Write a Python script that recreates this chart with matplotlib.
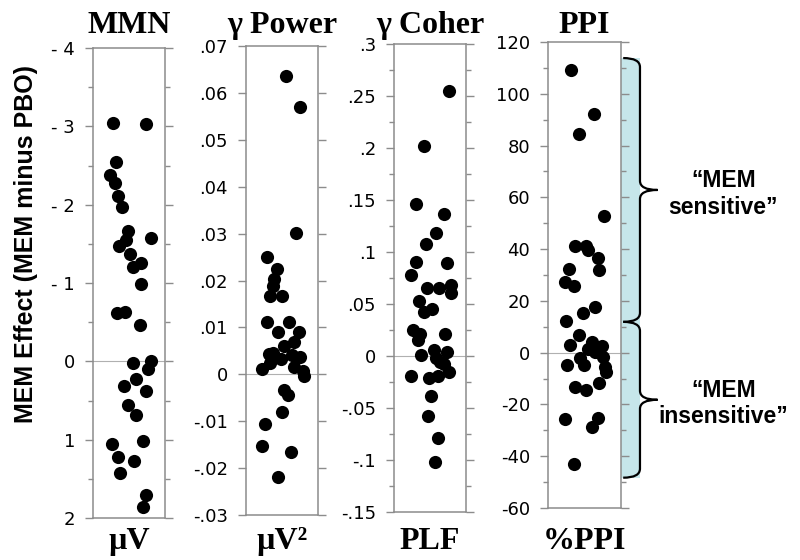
import matplotlib
matplotlib.use("Agg")
import matplotlib.pyplot as plt
import matplotlib.transforms as mtransforms
from matplotlib.path import Path
from matplotlib.patches import PathPatch, Rectangle
from matplotlib.ticker import MultipleLocator, FuncFormatter

plt.rcParams["axes.unicode_minus"] = False

# x = position inside the column (0..1), y = MEM minus PBO effect
mmn_x = [.28, .74, .32, .23, .30, .35, .40, .49, .80, .46, .36, .52, .56, .66, .66,
         .33, .44, .65, .56, .80, .77, .43, .60, .74, .49, .60, .26, .69, .35, .57,
         .38, .73, .69]
mmn_y = [-3.04, -3.03, -2.54, -2.38, -2.28, -2.11, -1.97, -1.67, -1.57, -1.55, -1.47,
         -1.37, -1.21, -1.26, -0.99, -0.62, -0.63, -0.46, 0.02, 0.00, 0.10, 0.31, 0.22,
         0.38, 0.56, 0.68, 1.05, 1.02, 1.22, 1.27, 1.43, 1.71, 1.86]

gpow_x = [.55, .75, .70, .29, .43, .39, .38, .33, .50, .29, .60, .45, .73, .67, .53,
          .32, .37, .33, .49, .64, .75, .22, .66, .79, .80, .53, .58, .50, .26, .22,
          .63, .44]
gpow_y = [.0637, .0570, .0302, .0250, .0225, .0204, .0189, .0166, .0166, .0111, .0111,
          .0091, .0091, .0069, .0060, .0044, .0045, .0024, .0033, .0041, .0037, .0011,
          .0015, .0006, -.0004, -.0033, -.0044, -.0080, -.0106, -.0153, -.0166, -.0220]

gcoh_x = [.77, .42, .30, .69, .58, .44, .30, .73, .24, .46, .62, .79, .79, .35, .41,
          .53, .27, .36, .33, .71, .38, .55, .73, .59, .64, .69, .77, .24, .49, .61,
          .52, .47, .61, .57]
gcoh_y = [.255, .202, .146, .137, .118, .108, .090, .089, .078, .065, .065, .068, .061,
          .053, .042, .045, .025, .021, .015, .021, .001, .006, .004, -.002, -.006,
          -.008, -.015, -.019, -.021, -.019, -.038, -.058, -.079, -.102]

ppi_x = [.32, .63, .43, .77, .37, .52, .55, .68, .29, .70, .23, .35, .65, .48, .25,
         .43, .30, .60, .55, .74, .64, .44, .49, .26, .76, .78, .80, .70, .37, .52,
         .23, .68, .60, .35]
ppi_y = [109.0, 92.3, 84.5, 52.8, 41.1, 41.1, 39.5, 36.4, 32.3, 31.9, 27.4, 25.7, 17.5,
         15.4, 12.2, 6.7, 3.0, 4.0, 1.6, 2.6, 0.2, -2.1, -4.8, -4.6, -1.8, -5.7, -7.6,
         -11.7, -13.1, -14.6, -25.5, -25.2, -28.7, -43.1]

titles = ["MMN", "γ Power", "γ Coher", "PPI"]
units = ["µV", "µV²", "PLF", "%PPI"]

# bracket ranges on the PPI scale
sens_range = (113.8, 11.9)
insens_range = (11.9, -48.3)

W, H = 800, 560
fig = plt.figure(figsize=(8, 5.6), dpi=100)
fig.patch.set_facecolor("white")


def px_axes(x0, x1, y0, y1):
    return fig.add_axes([x0 / W, 1 - y1 / H, (x1 - x0) / W, (y1 - y0) / H])


def short_fmt(spaced=False):
    def f(v, pos):
        if abs(v) < 1e-9:
            return "0"
        s = f"{v:g}"
        s = s.replace("0.", ".")
        if spaced and s.startswith("-"):
            s = "- " + s[1:]
        return s
    return FuncFormatter(f)


panels = [
    dict(x=mmn_x, y=mmn_y, box=(93, 165, 48, 518), ylim=(2, -4), major=1, minor=0.5, spaced=True),
    dict(x=gpow_x, y=gpow_y, box=(246, 318, 46, 515), ylim=(-.03, .07), major=.01, minor=None, spaced=False),
    dict(x=gcoh_x, y=gcoh_y, box=(394, 466, 44, 512), ylim=(-.15, .3), major=.05, minor=.025, spaced=False),
    dict(x=ppi_x, y=ppi_y, box=(548, 621, 42, 508), ylim=(-60, 120), major=20, minor=10, spaced=False),
]

spine_col = "#8c8c8c"
axes = []
for p, title, unit in zip(panels, titles, units):
    ax = px_axes(*p["box"])
    ax.scatter(p["x"], p["y"], s=90, color="black", zorder=3, linewidths=0)
    ax.axhline(0, color="#b0b0b0", lw=0.8, zorder=1)
    ax.set_xlim(0, 1)
    ax.set_ylim(*p["ylim"])
    ax.set_xticks([])
    ax.yaxis.set_major_locator(MultipleLocator(p["major"]))
    if p["minor"]:
        ax.yaxis.set_minor_locator(MultipleLocator(p["minor"]))
    ax.yaxis.set_major_formatter(short_fmt(p["spaced"]))
    ax.tick_params(axis="y", which="both", direction="out", left=True, right=True,
                   labelleft=True, labelright=False, colors=spine_col, labelcolor="black")
    ax.tick_params(axis="y", which="major", length=6, width=1.0, pad=7, labelsize=13)
    ax.tick_params(axis="y", which="minor", length=3.5, width=1.0)
    for sp in ax.spines.values():
        sp.set_color(spine_col)
        sp.set_linewidth(1.1)
    for lab in ax.get_yticklabels():
        lab.set_family("DejaVu Sans")
    cx = (p["box"][0] + p["box"][1]) / 2 / W
    fig.text(cx, 1 - 33 / H, title, ha="center", va="baseline",
             family="Liberation Serif", weight="bold", fontsize=23)
    fig.text(cx, 1 - 549 / H, unit, ha="center", va="baseline",
             family="Liberation Serif", weight="bold", fontsize=23)
    axes.append(ax)

fig.text(26 / W, 1 - 244 / H, "MEM Effect (MEM minus PBO)", rotation=90,
         ha="center", va="center", family="Liberation Sans", weight="bold", fontsize=18)

# bracket next to the PPI column
ax = axes[3]
tr = mtransforms.blended_transform_factory(ax.transAxes, ax.transData)
xv, xc, xt = 1.26, 1.03, 1.50
r = 3.5
for (yt, yb), label in [(sens_range, "“MEM\nsensitive”"), (insens_range, "“MEM\ninsensitive”")]:
    ax.add_patch(Rectangle((1.0, yb), xv - 1.0, yt - yb, transform=tr, clip_on=False,
                           facecolor="#c6e6ea", edgecolor="none", zorder=1))
    ym = (yt + yb) / 2
    verts = [(xc, yt), (xv, yt), (xv, yt - r), (xv, ym + r), (xv, ym), (xt, ym),
             (xv, ym), (xv, ym - r), (xv, yb + r), (xv, yb), (xc, yb)]
    codes = [Path.MOVETO, Path.CURVE3, Path.CURVE3, Path.LINETO, Path.CURVE3, Path.CURVE3,
             Path.CURVE3, Path.CURVE3, Path.LINETO, Path.CURVE3, Path.CURVE3]
    ax.add_patch(PathPatch(Path(verts, codes), transform=tr, clip_on=False,
                           facecolor="none", edgecolor="black", lw=1.6, zorder=2))
    ax.text(2.40, ym - 1.5, label, transform=tr, ha="center", va="center",
            family="Liberation Sans", weight="bold", fontsize=16.5, linespacing=1.2)

fig.savefig("out.png", dpi=100)
